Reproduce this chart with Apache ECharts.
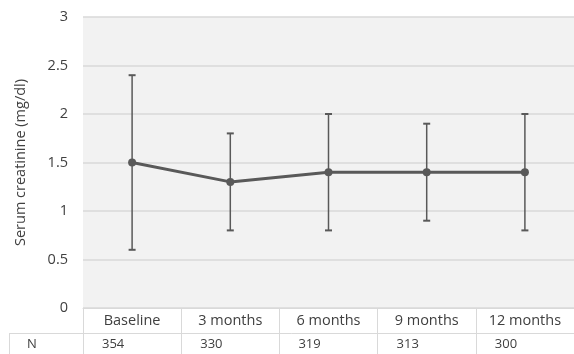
<!DOCTYPE html>
<html><head><meta charset="utf-8">
<script src="https://cdn.jsdelivr.net/npm/echarts@6/dist/echarts.min.js"></script>
<style>html,body{margin:0;padding:0;background:#fff}#c{width:574px;height:354px}</style>
</head><body><div id="c"></div>
<script>
const categories = ['Baseline', '3 months', '6 months', '9 months', '12 months'];
const meanValues = [1.5, 1.3, 1.4, 1.4, 1.4];
const upperValues = [2.4, 1.8, 2.0, 1.9, 2.0];
const lowerValues = [0.6, 0.8, 0.8, 0.9, 0.8];
const nValues = ['354', '330', '319', '313', '300'];
const yTicks = [0, 0.5, 1, 1.5, 2, 2.5, 3];

const FONT = 'Open Sans';
const TXT = '#404040';
const chart = echarts.init(document.getElementById('c'));
const errData = categories.map((c, i) => [i, lowerValues[i], upperValues[i]]);

const option = {
  animation: false,
  backgroundColor: '#ffffff',
  grid: { left: 83, right: 0, top: 17, bottom: 46, show: true, backgroundColor: '#f2f2f2', borderWidth: 0 },
  xAxis: {
    type: 'category', data: categories, boundaryGap: true,
    axisLine: { show: true, lineStyle: { color: '#d9d9d9', width: 1 } },
    axisTick: { show: true, length: 46, lineStyle: { color: '#d9d9d9', width: 1 } },
    axisLabel: { color: TXT, fontFamily: FONT, fontSize: 14.5, margin: 5 },
    splitLine: { show: false }
  },
  yAxis: {
    type: 'value', min: yTicks[0], max: yTicks[yTicks.length - 1], interval: 0.5,
    name: 'Serum creatinine (mg/dl)', nameLocation: 'middle', nameGap: 55,
    nameTextStyle: { color: TXT, fontFamily: FONT, fontSize: 14.5 },
    axisLine: { show: false }, axisTick: { show: false },
    axisLabel: { color: TXT, fontFamily: FONT, fontSize: 14.5, margin: 15 },
    splitLine: { lineStyle: { color: '#d9d9d9', width: 1.5 } }
  },
  series: [
    {
      type: 'custom', z: 2,
      data: errData,
      renderItem: function (params, api) {
        const x = api.value(0);
        const lo = api.coord([x, api.value(1)]);
        const hi = api.coord([x, api.value(2)]);
        const hw = 3.5;
        const st = { stroke: '#595959', lineWidth: 1.5 };
        return { type: 'group', children: [
          { type: 'line', shape: { x1: lo[0], y1: lo[1], x2: hi[0], y2: hi[1] }, style: st },
          { type: 'line', shape: { x1: lo[0] - hw, y1: lo[1], x2: lo[0] + hw, y2: lo[1] }, style: { stroke: '#595959', lineWidth: 2 } },
          { type: 'line', shape: { x1: hi[0] - hw, y1: hi[1], x2: hi[0] + hw, y2: hi[1] }, style: { stroke: '#595959', lineWidth: 2 } }
        ]};
      }
    },
    {
      type: 'line', z: 3, data: meanValues,
      symbol: 'circle', symbolSize: 8,
      lineStyle: { color: '#595959', width: 3 },
      itemStyle: { color: '#595959' }
    }
  ]
};
chart.setOption(option);

// Table rows beneath the axis (positions derived from the axis scale)
const axisY = chart.convertToPixel({ gridIndex: 0 }, [0, 0])[1];
const cellW = chart.convertToPixel({ xAxisIndex: 0 }, 1) - chart.convertToPixel({ xAxisIndex: 0 }, 0);
const rowY = axisY + 25;
const gridLeft = chart.convertToPixel({ xAxisIndex: 0 }, 0) - cellW / 2;
const g = [
  { type: 'line', shape: { x1: 9.5, y1: rowY + 0.5, x2: 574, y2: rowY + 0.5 }, style: { stroke: '#d9d9d9', lineWidth: 1 } },
  { type: 'line', shape: { x1: 9.5, y1: rowY, x2: 9.5, y2: 354 }, style: { stroke: '#d9d9d9', lineWidth: 1 } },
  { type: 'line', shape: { x1: gridLeft + 0.5, y1: axisY, x2: gridLeft + 0.5, y2: 354 }, style: { stroke: '#d9d9d9', lineWidth: 1 } },
  { type: 'text', x: 27, y: rowY + 11, style: { text: 'N', fill: TXT, font: '13px "' + FONT + '"', verticalAlign: 'middle' } }
];
nValues.forEach((v, i) => {
  const cx = chart.convertToPixel({ xAxisIndex: 0 }, i);
  g.push({ type: 'text', x: cx - cellW / 2 + 19, y: rowY + 11, style: { text: v, fill: TXT, font: '13px "' + FONT + '"', verticalAlign: 'middle' } });
});
chart.setOption({ graphic: g });
</script></body></html>
